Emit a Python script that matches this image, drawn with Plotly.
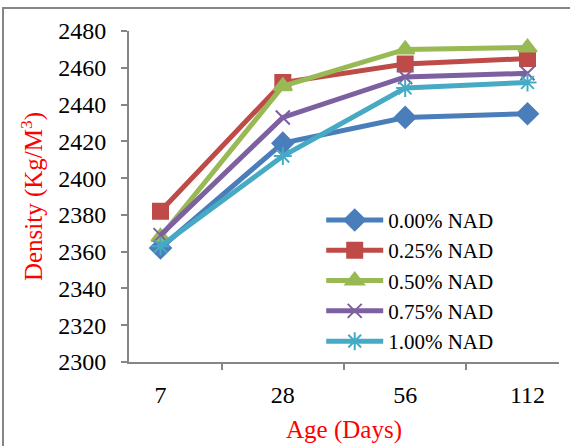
import plotly.graph_objects as go

ages = ["7", "28", "56", "112"]
series_names = ["0.00% NAD", "0.25% NAD", "0.50% NAD", "0.75% NAD", "1.00% NAD"]
nad_000 = [2362, 2419, 2433, 2435]
nad_025 = [2382, 2452, 2462, 2465]
nad_050 = [2368, 2450, 2470, 2471]
nad_075 = [2369, 2433, 2455, 2457]
nad_100 = [2363, 2412, 2449, 2452]
y_ticks = list(range(2300, 2481, 20))

values = [nad_000, nad_025, nad_050, nad_075, nad_100]
colors = ["#4A7EBB", "#BE4B48", "#98B954", "#7D60A0", "#46AAC5"]
symbols = ["diamond", "square", "triangle-up", "x-thin", "asterisk"]
sizes = [16, 15, 16, 14, 15]

fig = go.Figure()
for name, vals, c, s, sz in zip(series_names, values, colors, symbols, sizes):
    fig.add_trace(go.Scatter(
        x=ages, y=vals, name=name, mode="lines+markers",
        line=dict(color=c, width=5),
        marker=dict(symbol=s, size=sz, color=c, line=dict(color=c, width=2)),
    ))

font = "Liberation Serif, Times New Roman, serif"
fig.update_layout(
    width=570, height=446,
    margin=dict(l=129, r=11, t=31, b=84),
    paper_bgcolor="white", plot_bgcolor="white",
    font=dict(family=font, size=24, color="black"),
    showlegend=True,
    legend=dict(x=0.447, y=0.49, xanchor="left", yanchor="top",
                bgcolor="rgba(0,0,0,0)", font=dict(size=21),
                itemwidth=57, tracegroupgap=0),
    xaxis=dict(
        type="category", showline=True, linecolor="#868686", linewidth=2,
        ticks="outside", ticklen=6, tickcolor="#868686", tickwidth=2,
        tickson="boundaries", showgrid=False, zeroline=False,
        tickfont=dict(size=24), automargin=False, ticklabelstandoff=10,
        title=dict(text="Age (Days)", font=dict(color="red", size=25), standoff=14),
    ),
    yaxis=dict(
        range=[2300, 2480], tickvals=y_ticks, showline=True, linecolor="#868686",
        linewidth=2, ticks="outside", ticklen=6, tickcolor="#868686", tickwidth=2,
        showgrid=False, zeroline=False, tickfont=dict(size=24), automargin=False,
        ticklabelstandoff=10,
        title=dict(text="Density (Kg/M<sup>3</sup>)", font=dict(color="red", size=25), standoff=8),
    ),
    shapes=[dict(type="rect", xref="paper", yref="paper",
                 x0=(3 - 129) / 430, x1=(575 - 129) / 430,
                 y0=(362 - 450) / 331, y1=(362 - 8) / 331,
                 line=dict(color="#868686", width=2), layer="below")],
)

fig.write_html("out.html", config={"displayModeBar": False},
               post_script="document.body.style.margin='0';document.body.style.overflow='hidden';")
